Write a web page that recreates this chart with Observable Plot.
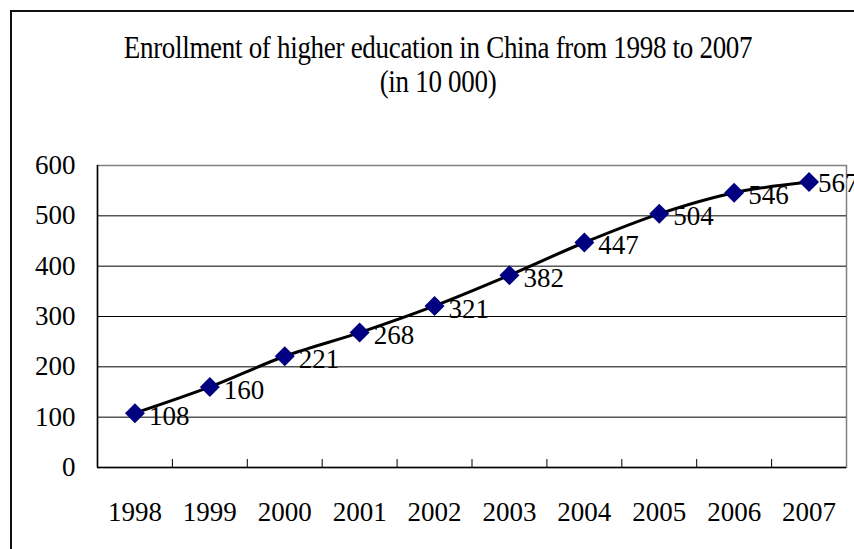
<!DOCTYPE html>
<html>
<head>
<meta charset="utf-8">
<script src="https://cdn.jsdelivr.net/npm/d3@7"></script>
<script src="https://cdn.jsdelivr.net/npm/@observablehq/plot@0.6"></script>
<style>
  html, body { margin: 0; padding: 0; background: #fff; }
  #wrap { position: relative; width: 854px; height: 549px; overflow: hidden; background: #fff;
          font-family: "Times New Roman", "Liberation Serif", serif; }
  #frame { position: absolute; left: 10px; top: 10px; width: 900px; height: 600px;
           border: 2px solid #111; box-sizing: border-box; }
  #title { position: absolute; left: 0; width: 876px; top: 32px; text-align: center;
           font-size: 27px; line-height: 34px; color: #000; letter-spacing: -0.3px; }
  #title div { transform: scaleY(1.14); transform-origin: 50% 75%; }
  #chart { position: absolute; left: 0; top: 120px; }
</style>
</head>
<body>
<div id="wrap">
  <div id="frame"></div>
  <div id="title"><div>Enrollment of higher education in China from 1998 to 2007</div><div>(in 10 000)</div></div>
  <div id="chart"></div>
</div>
<script>
const years = [1998, 1999, 2000, 2001, 2002, 2003, 2004, 2005, 2006, 2007];
const enrollment = [108, 160, 221, 268, 321, 382, 447, 504, 546, 567];
const yTicks = [0, 100, 200, 300, 400, 500, 600];

const data = years.map((y, i) => ({year: y, value: enrollment[i], last: i === years.length - 1}));
const xDomain = [years[0] - 0.5, years[years.length - 1] + 0.5];
const boundaries = years.slice(0, -1).map(y => y + 0.5);
const gridValues = yTicks.filter(v => v > 0 && v < yTicks[yTicks.length - 1]);

const chart = Plot.plot({
  width: 854,
  height: 429,
  marginLeft: 97,
  marginRight: 8,
  marginTop: 45,
  marginBottom: 82,
  style: {
    fontFamily: "'Times New Roman', 'Liberation Serif', serif",
    fontSize: "27px",
    background: "transparent",
    overflow: "visible",
    color: "#000"
  },
  x: {type: "linear", domain: xDomain},
  y: {domain: [yTicks[0], yTicks[yTicks.length - 1]]},
  marks: [
    Plot.frame({stroke: "#808080", strokeWidth: 1.5}),
    Plot.ruleY(gridValues, {stroke: "#000", strokeWidth: 1}),
    Plot.ruleY([yTicks[0]], {stroke: "#000", strokeWidth: 1.5}),
    Plot.ruleX([xDomain[0]], {stroke: "#000", strokeWidth: 1.5}),
    Plot.axisY({ticks: yTicks, tickSize: 0, tickPadding: 22, tickFormat: d => String(d), fontSize: 27, label: null}),
    Plot.axisX({ticks: boundaries, tickSize: -8, tickFormat: () => "", label: null, strokeWidth: 1}),
    Plot.axisX({ticks: years, tickSize: 0, tickPadding: 34, tickFormat: d => String(d), fontSize: 27, label: null}),
    Plot.line(data, {x: "year", y: "value", stroke: "#000", strokeWidth: 3, curve: "catmull-rom"}),
    Plot.dot(data, {x: "year", y: "value", symbol: "diamond2", r: 9, fill: "#000080", stroke: "none"}),
    Plot.text(data.filter(d => !d.last), {x: "year", y: "value", text: d => String(d.value), textAnchor: "start", dx: 14, dy: 3, fontSize: 27, fill: "#000"}),
    Plot.text(data.filter(d => d.last), {x: "year", y: "value", text: d => String(d.value), textAnchor: "start", dx: 9, dy: 1, fontSize: 27, fill: "#000"})
  ]
});
document.getElementById("chart").appendChild(chart);
</script>
</body>
</html>
